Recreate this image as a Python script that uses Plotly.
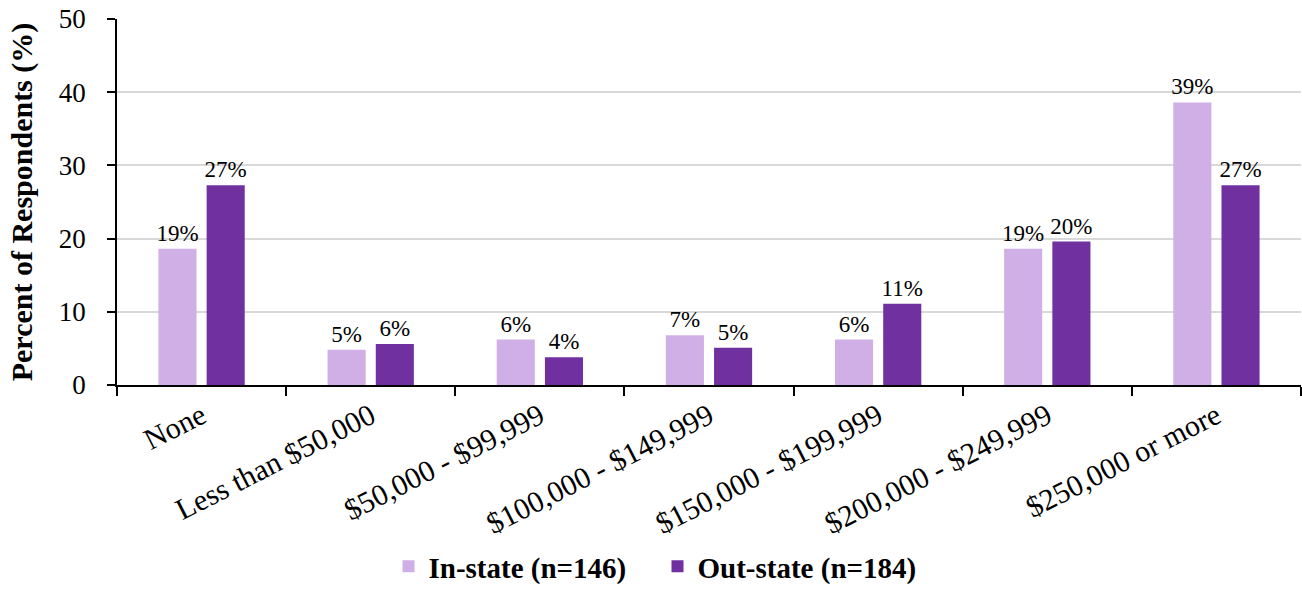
import plotly.graph_objects as go

# Household income categories and share of respondents (%)
categories = [
    "None",
    "Less than $50,000",
    "$50,000 - $99,999",
    "$100,000 - $149,999",
    "$150,000 - $199,999",
    "$200,000 - $249,999",
    "$250,000 or more",
]
in_state = [18.6, 4.8, 6.2, 6.8, 6.2, 18.6, 38.6]
out_state = [27.3, 5.6, 3.8, 5.1, 11.1, 19.6, 27.3]

series_names = ["In-state (n=146)", "Out-state (n=184)"]
y_ticks = [0, 10, 20, 30, 40, 50]

FONT = "Liberation Serif, Times New Roman, serif"
LIGHT = "#CFAFE6"
DARK = "#7030A0"

fig = go.Figure()
for name, vals, color in [(series_names[0], in_state, LIGHT), (series_names[1], out_state, DARK)]:
    fig.add_trace(go.Bar(
        x=categories,
        y=vals,
        name=name,
        marker=dict(color=color, line=dict(width=0)),
        text=[f"{v:.0f}%" for v in vals],
        textposition="outside",
        constraintext="none",
        textfont=dict(family=FONT, size=23, color="black"),
        cliponaxis=False,
    ))

fig.update_layout(
    width=1302,
    height=592,
    margin=dict(l=117, r=1, t=19, b=207),
    paper_bgcolor="white",
    plot_bgcolor="white",
    barmode="group",
    bargap=0.43,
    bargroupgap=0.21,
    font=dict(family=FONT, color="black"),
    showlegend=True,
    legend=dict(
        orientation="h",
        x=0.505,
        xanchor="center",
        xref="container",
        y=0.0,
        yanchor="bottom",
        yref="container",
        font=dict(family=FONT, size=29, color="black", weight="bold"),
        itemwidth=30,
        entrywidth=224,
        entrywidthmode="pixels",
        traceorder="normal",
    ),
    xaxis=dict(
        type="category",
        automargin=False,
        showline=True,
        linecolor="black",
        linewidth=1.5,
        ticks="outside",
        tickson="boundaries",
        ticklen=9,
        tickcolor="black",
        tickwidth=1.5,
        tickangle=-27,
        tickfont=dict(family=FONT, size=30, color="black"),
        showgrid=False,
    ),
    yaxis=dict(
        range=[0, 50],
        tickvals=y_ticks,
        automargin=False,
        showline=True,
        linecolor="black",
        linewidth=1.5,
        ticks="outside",
        ticklen=8,
        tickcolor="black",
        tickwidth=1.5,
        ticklabelstandoff=16,
        tickfont=dict(family=FONT, size=27, color="black"),
        showgrid=True,
        gridcolor="#D9D9D9",
        gridwidth=1.5,
        zeroline=False,
        title=dict(
            text="Percent of Respondents (%)",
            font=dict(family=FONT, size=30, color="black", weight="bold"),
            standoff=17,
        ),
    ),
)

fig.write_html("out.html")
